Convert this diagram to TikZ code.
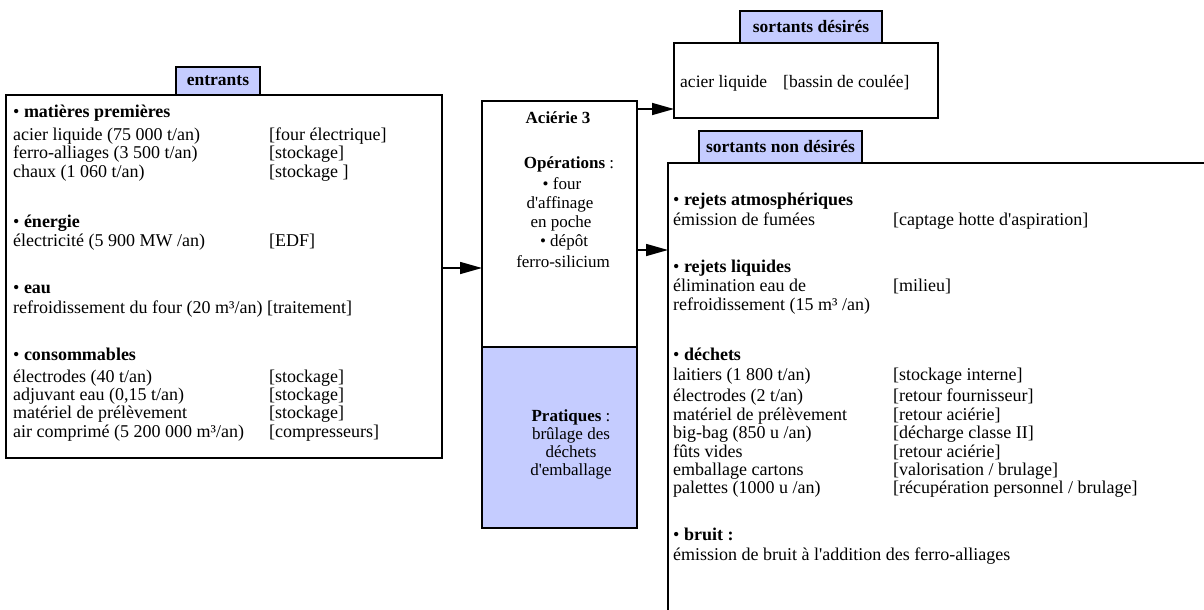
\documentclass[tikz,border=0pt]{standalone}
\usepackage{fontspec}
\setmainfont{Liberation Serif}
\usetikzlibrary{arrows.meta}
\definecolor{tabblue}{RGB}{197,204,255}
\newcommand\ap{\textquotesingle}
\begin{document}
\begin{tikzpicture}[x=1pt,y=-1pt,
  box/.style={draw=black, line width=1.3pt, fill=white, anchor=north west, inner sep=0pt, outer sep=0pt},
  tab/.style={draw=black, line width=1.3pt, fill=tabblue, anchor=north west, inner sep=0pt, outer sep=0pt, font=\fontsize{17.5}{19}\selectfont\bfseries},
  txt/.style={anchor=base west, inner sep=0pt, font=\fontsize{18}{19}\selectfont},
  stxt/.style={anchor=base west, inner sep=0pt, font=\fontsize{17.5}{19}\selectfont},
  ctxt/.style={anchor=base, inner sep=0pt, font=\fontsize{17}{19}\selectfont},
  arr/.style={line width=1.5pt, -{Triangle[length=22pt,width=12pt]}}]
\clip (0,0) rectangle (1204,610);
\fill[white] (0,0) rectangle (1204,610);
% boxes
\node[box, minimum width=436pt, minimum height=363pt] (inbox) at (6,95) {};
\node[box, minimum width=155pt, minimum height=246pt] (op) at (482,101) {};
\node[box, fill=tabblue, minimum width=155pt, minimum height=181pt] (prat) at (482,347) {};
\node[box, minimum width=264pt, minimum height=75pt] (outD) at (674,43) {};
\node[box, minimum width=600pt, minimum height=520pt] (outN) at (668,163) {};
% tabs
\node[tab, minimum width=84pt, minimum height=28pt] (tin) at (176,67) {entrants};
\node[tab, minimum width=142pt, minimum height=32pt] (tD) at (740,11) {sortants désirés};
\node[tab, minimum width=163pt, minimum height=32pt] (tN) at (699,131) {sortants non désirés};
% arrows
\coordinate (ya) at (0,268);
\coordinate (yb) at (0,109);
\coordinate (yc) at (0,250);
\draw[arr] (inbox.east |- ya) -- (op.west |- ya);
\draw[arr] (op.east |- yb) -- (outD.west |- yb);
\draw[arr] (op.east |- yc) -- (outN.west |- yc);
% left box text
\node[txt] (a0) at (13,117) {• \textbf{matières premières}};
\node[txt] (a1) at (13,140) {acier liquide (75 000 t/an)};
\node[txt] (a1b) at (269,140) {[four électrique]};
\node[txt] (a2) at (13,158) {ferro-alliages (3 500 t/an)};
\node[txt] (a2b) at (269,158) {[stockage]};
\node[txt] (a3) at (13,177) {chaux (1 060 t/an)};
\node[txt] (a3b) at (269,177) {[stockage ]};
\node[txt] (b0) at (13,227) {• \textbf{énergie}};
\node[txt] (b1) at (13,246) {électricité (5 900 MW /an)};
\node[txt] (b1b) at (269,246) {[EDF]};
\node[txt] (c0) at (13,293) {• \textbf{eau}};
\node[txt] (c1) at (13,313) {refroidissement du four (20 m³/an) [traitement]};
\node[txt] (d0) at (13,360) {• \textbf{consommables}};
\node[txt] (d1) at (13,382) {électrodes (40 t/an)};
\node[txt] (d1b) at (269,382) {[stockage]};
\node[txt] (d2) at (13,400) {adjuvant eau (0,15 t/an)};
\node[txt] (d2b) at (269,400) {[stockage]};
\node[txt] (d3) at (13,418) {matériel de prélèvement};
\node[txt] (d3b) at (269,418) {[stockage]};
\node[txt] (d4) at (13,437) {air comprimé (5 200 000 m³/an)};
\node[txt] (d4b) at (269,437) {[compresseurs]};
% center text
\node[ctxt] (o1) at (558,123) {\textbf{Aciérie 3}};
\node[ctxt] (o2) at (569,168) {\textbf{Opérations} :};
\node[ctxt] (o3) at (562,189) {• four};
\node[ctxt] (o4) at (560,208) {d\ap affinage};
\node[ctxt] (o5) at (561,227) {en poche};
\node[ctxt] (o6) at (564,246) {• dépôt};
\node[ctxt] (o7) at (563,267) {ferro-silicium};
\node[ctxt] (p1) at (571,421) {\textbf{Pratiques} :};
\node[ctxt] (p2) at (571,439) {brûlage des};
\node[ctxt] (p3) at (571,457) {déchets};
\node[ctxt] (p4) at (571,475) {d\ap emballage};
% top right text
\node[stxt] (s1) at (680,87) {acier liquide};
\node[stxt] (s1b) at (783,87) {[bassin de coulée]};
% bottom right text
\node[txt] (e0) at (673,205) {• \textbf{rejets atmosphériques}};
\node[txt] (e1) at (673,225) {émission de fumées};
\node[txt] (e1b) at (893,225) {[captage hotte d\ap aspiration]};
\node[txt] (f0) at (673,272) {• \textbf{rejets liquides}};
\node[txt] (f1) at (673,291) {élimination eau de};
\node[txt] (f1b) at (893,291) {[milieu]};
\node[txt] (f2) at (673,310) {refroidissement (15 m³ /an)};
\node[txt] (g0) at (673,360) {• \textbf{déchets}};
\node[txt] (g1) at (673,380) {laitiers (1 800 t/an)};
\node[txt] (g1b) at (893,380) {[stockage interne]};
\node[txt] (g2) at (673,401) {électrodes (2 t/an)};
\node[txt] (g2b) at (893,401) {[retour fournisseur]};
\node[txt] (g3) at (673,420) {matériel de prélèvement};
\node[txt] (g3b) at (893,420) {[retour aciérie]};
\node[txt] (g4) at (673,438) {big-bag (850 u /an)};
\node[txt] (g4b) at (893,438) {[décharge classe II]};
\node[txt] (g5) at (673,457) {fûts vides};
\node[txt] (g5b) at (893,457) {[retour aciérie]};
\node[txt] (g6) at (673,475) {emballage cartons};
\node[txt] (g6b) at (893,475) {[valorisation / brulage]};
\node[txt] (g7) at (673,493) {palettes (1000 u /an)};
\node[txt] (g7b) at (893,493) {[récupération personnel / brulage]};
\node[txt] (h0) at (673,540) {• \textbf{bruit :}};
\node[txt] (h1) at (673,560) {émission de bruit à l\ap addition des ferro-alliages};
\end{tikzpicture}
\end{document}
